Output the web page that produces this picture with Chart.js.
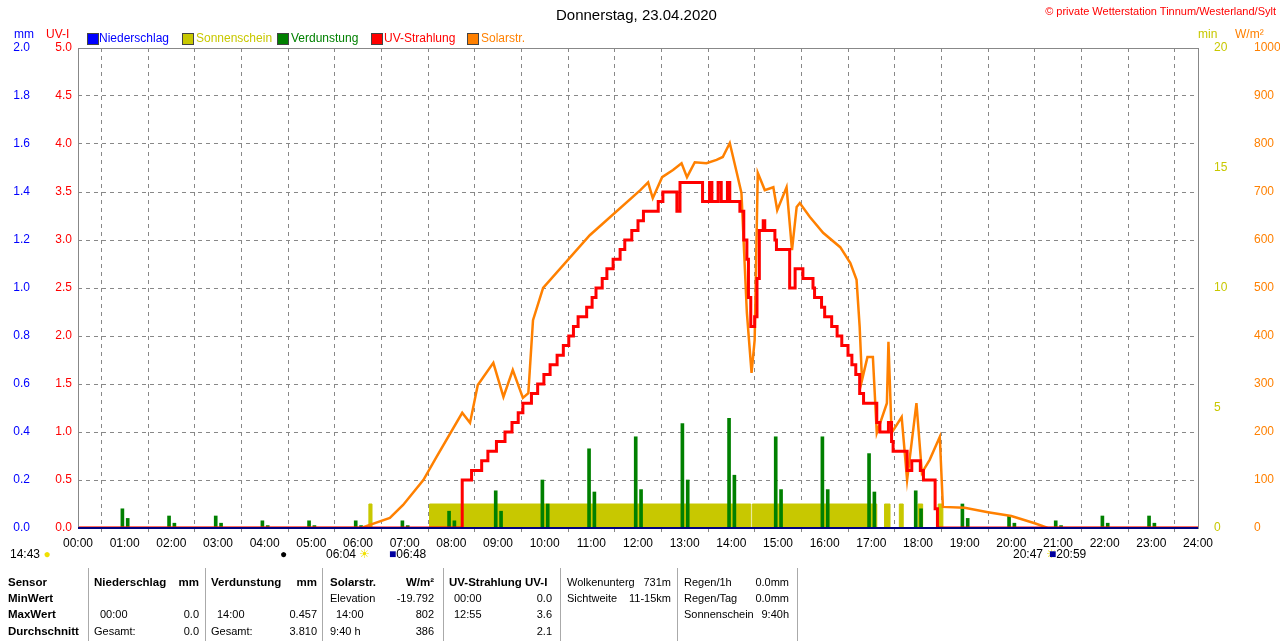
<!DOCTYPE html>
<html><head><meta charset="utf-8">
<script src="https://cdn.jsdelivr.net/npm/chart.js@4"></script>
<style>
body{margin:0;background:#fff;font-family:"Liberation Sans",Arial,sans-serif;}
#wrap{position:relative;width:1280px;height:641px;overflow:hidden}
canvas{position:absolute;left:0;top:0}
.t{position:absolute;font-size:12px;white-space:nowrap;line-height:14px}
.tb{font-size:11.5px}
.sq{position:absolute;width:10px;height:10px;border:1px solid #444;top:33px}
.vl{position:absolute;top:568px;height:73px;border-left:1px solid #aaa}
</style></head><body><div id="wrap"><canvas id="c" width="1280" height="641"></canvas></div>
<script>
// Solar radiation W/m² : [minute of day, value]
const solarTimes = [0,365,367,401,418,444,461,494,504,514,534,547,559,572,579,585,598,658,723,733,739,751,765,776,783,793,808,821,829,838,847,853,860,866,870,874,883,894,899,911,918,924,928,941,958,980,993,1001,1005,1008,1015,1022,1027,1040,1042,1046,1059,1066,1078,1085,1095,1108,1112,1140,1170,1200,1230,1247,1440];
const solarValues = [0,0,2,21,48,100,148,240,219,298,344,273,329,271,281,433,500,610,704,720,687,731,746,760,731,762,760,767,773,802,740,698,448,323,392,740,704,710,662,710,579,669,677,648,615,585,552,517,419,308,356,356,198,260,388,198,231,100,260,115,142,190,44,42,33,25,10,0,0];
// UV index (stepped)
const uvTimes = [0,491,494,506,519,527,538,549,558,566,572,583,591,599,607,616,624,631,637,643,654,661,666,674,680,688,697,703,712,720,727,746,752,770,774,800,803,812,815,823,827,835,838,845,851,856,860,862,865,870,873,876,881,883,894,896,898,911,915,922,930,932,945,947,956,960,969,976,982,990,995,1000,1005,1010,1022,1027,1031,1040,1042,1046,1048,1063,1066,1072,1083,1087,1100,1102,1105,1440];
const uvValues = [0,0,0.5,0.6,0.7,0.8,0.9,1.0,1.1,1.2,1.3,1.4,1.5,1.6,1.7,1.8,1.9,2.0,2.1,2.2,2.3,2.4,2.5,2.6,2.7,2.8,2.9,3.0,3.1,3.2,3.3,3.4,3.5,3.3,3.6,3.6,3.4,3.6,3.4,3.6,3.4,3.6,3.4,3.4,3.3,3.0,2.8,2.4,2.1,2.2,2.6,3.1,3.2,3.1,3.1,3.0,2.9,2.9,2.5,2.7,2.7,2.6,2.5,2.4,2.3,2.2,2.1,2.0,1.9,1.8,1.7,1.6,1.4,1.3,1.3,1.1,1.0,1.0,1.1,0.9,0.8,0.8,0.6,0.7,0.6,0.5,0.5,0.2,0,0];
// Sunshine (min per minute) segments [start,end]
const sunStart = [374,452,867,1037,1056,1080,1106];
const sunEnd   = [378,865,1027,1044,1061,1086,1112];
const sunLevel = 1;
// Evaporation mm at each hour
const evapHours = [1,2,3,4,5,6,7,8,9,10,11,12,13,14,15,16,17,18,19,20,21,22,23];
const evapValues = [0.08,0.05,0.05,0.03,0.03,0.03,0.03,0.07,0.155,0.2,0.33,0.38,0.435,0.457,0.38,0.38,0.31,0.155,0.1,0.05,0.03,0.05,0.05];
const evapHalf   = [0.04,0.02,0.02,0.01,0.01,0.01,0.01,0.03,0.07,0.1,0.15,0.16,0.2,0.22,0.16,0.16,0.15,0.08,0.04,0.02,0.01,0.02,0.02];

const solar = solarTimes.map((t,i)=>({x:t,y:solarValues[i]}));
const uv = uvTimes.map((t,i)=>({x:t,y:uvValues[i]}));
const sun = [{x:0,y:0}];
sunStart.forEach((s,i)=>{sun.push({x:s,y:sunLevel});sun.push({x:sunEnd[i],y:0});});
sun.push({x:1440,y:0});
const evap = [], evap2=[];
evapHours.forEach((h,i)=>{evap.push({x:h*60-1,y:evapValues[i]});evap2.push({x:h*60+2,y:evapHalf[i]});});

const F={family:"Liberation Sans",size:12};
function w(px){return function(s){s.width=px;};}
const frame={id:'frame',afterDatasetsDraw(c){const a=c.chartArea,x=c.ctx;x.save();x.strokeStyle='#888';x.lineWidth=1;x.setLineDash([]);
 x.strokeRect(a.left+0.5,a.top+0.5,a.right-a.left,a.bottom-a.top);
 x.strokeStyle='#000080';x.lineWidth=2;x.beginPath();x.moveTo(a.left,a.bottom);x.lineTo(a.right,a.bottom);x.stroke();x.restore();}};
new Chart(document.getElementById('c'),{
 data:{datasets:[
  {type:'line',label:'Sonnenschein',data:sun,yAxisID:'ymin',stepped:'before',fill:'origin',backgroundColor:'#c8c800',borderColor:'#c8c800',borderWidth:1,pointRadius:0,order:5},
  {type:'bar',label:'Verdunstung',data:evap,yAxisID:'ymm',backgroundColor:'#008000',barThickness:3,order:4},
  {type:'bar',label:'Verdunstung2',data:evap2,yAxisID:'ymm',backgroundColor:'#008000',barThickness:3,order:4},
  {type:'line',label:'Solarstr.',data:solar,yAxisID:'ysol',borderColor:'#ff8000',borderWidth:2.5,pointRadius:0,tension:0,order:2},
  {type:'line',label:'UV',data:uv,yAxisID:'yuv',borderColor:'#ff0000',borderWidth:3,pointRadius:0,stepped:'before',order:1}
 ]},
 options:{responsive:false,animation:false,maintainAspectRatio:false,
  layout:{padding:{top:48,left:0,right:0,bottom:0}},
  plugins:{legend:{display:false},tooltip:{enabled:false}},
  scales:{
   x:{type:'linear',min:0,max:1440,offset:false,afterFit:s=>{s.height=113;},
      ticks:{stepSize:60,color:'#000',font:F,padding:4,callback:v=>String(v/60).padStart(2,'0')+':00'},
      grid:{color:'#888',tickLength:4},border:{display:false,dash:[4,4]}},
   ymm:{position:'left',weight:1,min:0,max:2,afterFit:w(40),ticks:{stepSize:0.2,color:'#0000ff',font:F,padding:2,callback:v=>v.toFixed(1)},grid:{display:false},border:{display:false}},
   yuv:{position:'left',weight:0,min:0,max:5,afterFit:w(38),ticks:{stepSize:0.5,color:'#ff0000',font:F,padding:6,callback:v=>v.toFixed(1)},grid:{color:'#888',drawTicks:false},border:{display:false,dash:[4,4]}},
   ymin:{position:'right',weight:0,min:0,max:20,afterFit:w(40),ticks:{stepSize:5,color:'#c8c800',font:F,padding:8},grid:{display:false},border:{display:false}},
   ysol:{position:'right',weight:1,min:0,max:1000,afterFit:w(42),ticks:{stepSize:100,color:'#ff8000',font:F,padding:8,callback:v=>String(v)},grid:{display:false},border:{display:false}}
  }},
 plugins:[frame]
});

const wrap=document.getElementById('wrap');
function T(x,y,txt,css){const d=document.createElement('div');d.className='t';d.style.left=x+'px';d.style.top=y+'px';d.innerHTML=txt;if(css)d.style.cssText+=css;wrap.appendChild(d);return d;}
function R(x,y,txt,css){const d=T(0,y,txt,css);d.style.left='auto';d.style.right=(1280-x)+'px';return d;}
function SQ(x,c){const d=document.createElement('div');d.className='sq';d.style.left=x+'px';d.style.background=c;wrap.appendChild(d);}
T(556,6,'Donnerstag, 23.04.2020','font-size:15px;line-height:18px');
R(1276,4,'© private Wetterstation Tinnum/Westerland/Sylt','color:#ff0000;font-size:11px');
T(14,27,'mm','color:#0000ff');T(46,27,'UV-I','color:#ff0000');
T(1198,27,'min','color:#c8c800');T(1235,27,'W/m²','color:#ff8000');
SQ(87,'#0000ff');T(99,31,'Niederschlag','color:#0000ff');
SQ(182,'#c8c800');T(196,31,'Sonnenschein','color:#c8c800');
SQ(277,'#008000');T(291,31,'Verdunstung','color:#008000');
SQ(371,'#ff0000');T(384,31,'UV-Strahlung','color:#ff0000');
SQ(467,'#ff8000');T(481,31,'Solarstr.','color:#ff8000');
T(10,547,'14:43 <span style="color:#f0e000">●</span>');
T(280,547,'●');T(326,547,'06:04 <span style="color:#f0e000">☀</span>');T(389,547,'<span style="color:#0000a0">■</span>06:48');
T(1013,547,'20:47 <span style="color:#f0e000">☀</span>');T(1049,547,'<span style="color:#0000a0">■</span>20:59');
// table
[88,205,322,443,560,677,797].forEach(x=>{const d=document.createElement('div');d.className='vl';d.style.left=x+'px';wrap.appendChild(d);});
const r=[575,591,607,624];
const B='font-weight:bold;font-size:11.5px', N='font-size:11px';
T(8,r[0],'Sensor',B);T(8,r[1],'MinWert',B);T(8,r[2],'MaxWert',B);T(8,r[3],'Durchschnitt',B);
T(94,r[0],'Niederschlag',B);R(199,r[0],'mm',B);
T(100,r[2],'00:00',N);R(199,r[2],'0.0',N);T(94,r[3],'Gesamt:',N);R(199,r[3],'0.0',N);
T(211,r[0],'Verdunstung',B);R(317,r[0],'mm',B);
T(217,r[2],'14:00',N);R(317,r[2],'0.457',N);T(211,r[3],'Gesamt:',N);R(317,r[3],'3.810',N);
T(330,r[0],'Solarstr.',B);R(434,r[0],'W/m²',B);
T(330,r[1],'Elevation',N);R(434,r[1],'-19.792',N);T(336,r[2],'14:00',N);R(434,r[2],'802',N);T(330,r[3],'9:40 h',N);R(434,r[3],'386',N);
T(449,r[0],'UV-Strahlung UV-I',B);
T(454,r[1],'00:00',N);R(552,r[1],'0.0',N);T(454,r[2],'12:55',N);R(552,r[2],'3.6',N);R(552,r[3],'2.1',N);
T(567,r[0],'Wolkenunterg',N);R(671,r[0],'731m',N);T(567,r[1],'Sichtweite',N);R(671,r[1],'11-15km',N);
T(684,r[0],'Regen/1h',N);R(789,r[0],'0.0mm',N);T(684,r[1],'Regen/Tag',N);R(789,r[1],'0.0mm',N);T(684,r[2],'Sonnenschein',N);R(789,r[2],'9:40h',N);
</script></body></html>
